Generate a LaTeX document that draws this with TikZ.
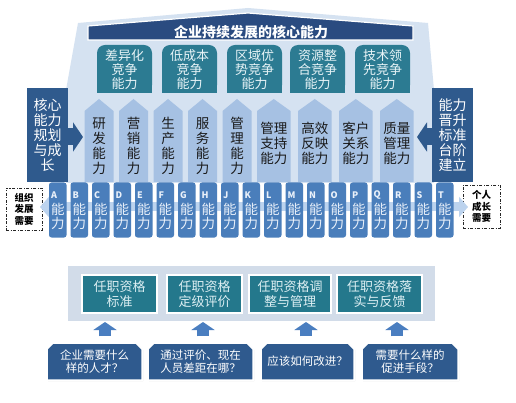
\documentclass[tikz,border=0pt]{standalone}
\usepackage{fontspec}
\setmainfont{Noto Sans CJK SC}
\usetikzlibrary{arrows.meta,shapes.misc,shadows}
\definecolor{palebg}{HTML}{D5E2F1}
\definecolor{bandnavy}{HTML}{2A4B80}
\definecolor{pilteal}{HTML}{2C7B92}
\definecolor{pilltext}{HTML}{E8F4F7}
\definecolor{pentfill}{HTML}{A6C1E3}
\definecolor{sidenavy}{HTML}{2F5A8D}
\definecolor{capblue}{HTML}{4A7EBB}
\definecolor{captxt}{HTML}{EAF1FA}
\definecolor{lightarr}{HTML}{BCD3EE}
\definecolor{panelbg}{HTML}{D2DCE9}
\definecolor{lowteal}{HTML}{24788C}
\definecolor{lowtxt}{HTML}{DDEFF3}
\definecolor{uparr}{HTML}{4A7EC0}
\definecolor{qnavy}{HTML}{2F5A8E}
\begin{document}
\begin{tikzpicture}[x=1pt,y=-1pt,
  titletext/.style={text=white, font=\bfseries\fontsize{14}{15}\selectfont, inner sep=0pt},
  pillarbox/.style={fill=pilteal, rounded corners=8pt, minimum width=55pt, minimum height=48pt, inner sep=0pt},
  pillartext/.style={text=pilltext, align=center, font=\fontsize{13}{14}\selectfont, inner sep=0pt},
  penttext/.style={text=black!90, align=center, font=\fontsize{13.5}{15}\selectfont, inner sep=0pt},
  sidebox/.style={fill=sidenavy, minimum width=41pt, minimum height=94pt, inner sep=0pt, text=white, align=center, font=\fontsize{14}{15}\selectfont},
  sidearrow/.style={draw=sidenavy, line width=17pt, -{Triangle[width=29pt,length=10pt]}},
  dashbox/.style={draw=black!85, line width=0.8pt, dash pattern=on 3pt off 1.5pt on 1pt off 1.5pt, inner sep=0pt, align=center, font=\bfseries\fontsize{9.5}{11.5}\selectfont},
  lightarrow/.style={draw=lightarr, line width=9pt, {Triangle[width=20pt,length=9pt]}-{Triangle[width=20pt,length=9pt]}},
  capbox/.style={fill=capblue, rounded corners=2.5pt, minimum width=17.5pt, minimum height=55pt, inner sep=0pt},
  caplet/.style={text=captxt, font=\bfseries\fontsize{9}{10}\selectfont, inner sep=0pt},
  captext/.style={text=captxt, align=center, font=\fontsize{13.5}{14.5}\selectfont, inner sep=0pt},
  panel/.style={fill=panelbg, minimum width=367pt, minimum height=55pt, inner sep=0pt},
  lowbox/.style={fill=lowteal, draw=white, line width=1.8pt, minimum height=38pt, inner sep=0pt, text=lowtxt, align=center, font=\fontsize{13}{15}\selectfont, drop shadow={shadow xshift=1pt, shadow yshift=-1pt, opacity=0.35}},
  uparrow/.style={draw=uparr, line width=12pt, -{Triangle[width=23pt,length=8pt]}},
  qbox/.style={chamfered rectangle, chamfered rectangle corners={north west,north east}, chamfered rectangle xsep=3pt, chamfered rectangle ysep=3pt, fill=qnavy, draw=white, line width=1.5pt, minimum height=37pt, inner sep=0pt, text=white, align=center, font=\fontsize{11.5}{12.5}\selectfont, drop shadow={shadow xshift=1.2pt, shadow yshift=-1.2pt, opacity=0.35}}
]
\useasboundingbox (0,0) rectangle (516,403);
\fill[white] (0,0) rectangle (516,403);

% pale background with roof
\fill[palebg] (78,23) -- (248,8) -- (428,23) -- (434,90) -- (434,183) -- (66,183) -- (66,90) -- cycle;

% title band
\draw[fill=bandnavy, draw=white, line width=1.2pt] (88,40) -- (88,26) -- (248,13) -- (413,26) -- (413,40) -- cycle;
\node[titletext] (title) at (251,32.5) {企业持续发展的核心能力};

% top pillars
\foreach \xa/\t [count=\i] in {97/{差异化\\竞争\\能力}, 162/{低成本\\竞争\\能力}, 227/{区域优\\势竞争\\能力}, 290/{资源整\\合竞争\\能力}, 355/{技术领\\先竞争\\能力}}{
  \fill[pilteal] (\xa,70) rectangle (\xa+55,93);
  \node[pillarbox] (pb\i) at (\xa+27.5,69) {};
  \node[pillartext] (pt\i) at (\xa+27.5,70) {\t};
}

% middle pentagons
\foreach \xa/\t [count=\i] in {84.5/{研\\发\\能\\力}, 119/{营\\销\\能\\力}, 153.5/{生\\产\\能\\力}, 188/{服\\务\\能\\力}, 222.5/{管\\理\\能\\力}}{
  \fill[pentfill] (\xa,182) -- (\xa,111) -- (\xa+14.5,99) -- (\xa+29,111) -- (\xa+29,182) -- cycle;
  \node[penttext] (ma\i) at (\xa+14.5,146) {\t};
}
\foreach \xa/\t [count=\i] in {257/{管理\\支持\\能力}, 298/{高效\\反映\\能力}, 339/{客户\\关系\\能力}, 380/{质量\\管理\\能力}}{
  \fill[pentfill] (\xa,182) -- (\xa,111) -- (\xa+16.75,99) -- (\xa+33.5,111) -- (\xa+33.5,182) -- cycle;
  \node[penttext] (mb\i) at (\xa+16.75,143.5) {\t};
}

% side boxes and arrows
\node[sidebox] (lbox) at (47.5,135) {核心\\能力\\规划\\与成\\长};
\node[sidebox] (rbox) at (452.5,135) {能力\\晋升\\标准\\台阶\\建立};
\coordinate (ltip) at (83,137);
\coordinate (rtip) at (417,137);
\draw[sidearrow] (ltip -| lbox.east) -- (ltip);
\draw[sidearrow] (rtip -| rbox.west) -- (rtip);

% dashed need boxes
\node[dashbox, minimum width=36pt, minimum height=42pt] (org) at (24,209) {组织\\发展\\需要};
\node[dashbox, minimum width=37pt, minimum height=43pt] (ind) at (481.5,206.5) {个人\\成长\\需要};

% light double arrow
\coordinate (la) at (40,207);
\coordinate (ra) at (468,207);
\draw[lightarrow] (la) -- (ra);

% capability boxes A..T
\foreach \l [count=\i from 0] in {A,B,C,D,E,F,G,H,J,K,L,M,N,O,P,Q,R,S,T}{
  \pgfmathsetmacro\xx{49+21.5*\i}
  \node[capbox] (c\l) at (\xx+8.75,210) {};
  \node[caplet, anchor=west] (cl\l) at (\xx+2,195.5) {\l};
  \node[captext] (ct\l) at (\xx+8.75,216.5) {能\\力};
}

% lower panel
\node[panel] (panel) at (251.5,293.5) {};
\node[lowbox, minimum width=75pt] (s1) at (119.5,294) {任职资格\\标准};
\node[lowbox, minimum width=75pt] (s2) at (204.5,294) {任职资格\\定级评价};
\node[lowbox, minimum width=82pt] (s3) at (290,294) {任职资格调\\整与管理};
\node[lowbox, minimum width=85pt] (s4) at (379.5,294) {任职资格落\\实与反馈};

% question boxes
\node[qbox, minimum width=95pt] (q1) at (94.5,361.5) {企业需要什么\\样的人才？};
\node[qbox, minimum width=105pt] (q2) at (200.5,361.5) {通过评价、现在\\人员差距在哪？};
\node[qbox, minimum width=93pt] (q3) at (307.5,361.5) {应该如何改进？};
\node[qbox, minimum width=96pt] (q4) at (410,361.5) {需要什么样的\\促进手段？};

% up arrows
\coordinate (u1) at (105,322);
\coordinate (u2) at (203,322);
\coordinate (u3) at (306,322);
\coordinate (u4) at (397,322);
\foreach \k in {1,2,3,4}{
  \draw[uparrow] ([yshift=6pt]u\k |- q\k.north) -- (u\k);
}
\end{tikzpicture}
\end{document}
